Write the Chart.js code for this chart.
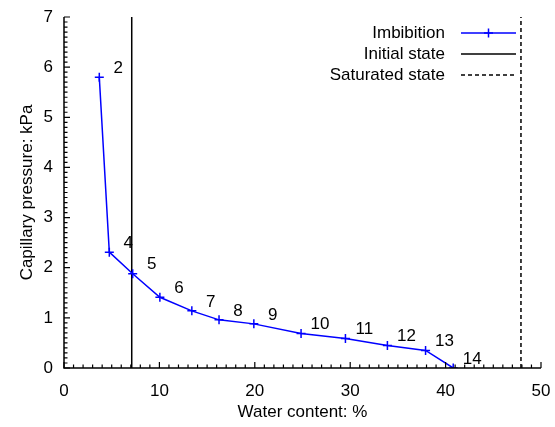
<!DOCTYPE html>
<html>
<head>
<meta charset="utf-8">
<title>Capillary pressure vs water content</title>
<script src="https://cdn.jsdelivr.net/npm/chart.js@4.4.1/dist/chart.umd.min.js"></script>
<style>
  html, body { margin: 0; padding: 0; background: #fff; }
  #wrap { width: 555px; height: 427px; }
</style>
</head>
<body>
<div id="wrap"><canvas id="chart" width="555" height="427"></canvas></div>
<script>
// imbibition path, water content (%) vs capillary pressure (kPa)
const waterContent = [3.7, 4.75, 7.2, 10.05, 13.4, 16.25, 19.9, 24.85, 29.5, 33.9, 37.9, 40.8];
const capPressure  = [5.8, 2.31, 1.88, 1.41, 1.14, 0.96, 0.88, 0.69, 0.59, 0.45, 0.35, 0.0];
const stepLabels   = ["2", "4", "5", "6", "7", "8", "9", "10", "11", "12", "13", "14"];

// reference states (water content, %)
const initialState = 7.1;
const saturatedState = 47.9;

const xRange = [0, 50];
const yRange = [0, 7];

const FONT = "'Liberation Sans', Arial, sans-serif";
const FONT_SIZE = 17;

// axis lines and inward ticks (major + minor)
const axesPlugin = {
  id: "axes",
  afterDatasetsDraw(chart) {
    const { ctx, chartArea: a, scales: { x, y } } = chart;
    ctx.save();
    ctx.strokeStyle = "#000";
    ctx.lineWidth = 1.5;
    ctx.beginPath();
    ctx.moveTo(a.left, a.top);
    ctx.lineTo(a.left, a.bottom);
    ctx.lineTo(a.right, a.bottom);
    ctx.stroke();

    ctx.lineWidth = 1.2;
    ctx.beginPath();
    for (let v = xRange[0]; v <= xRange[1]; v += 1) {
      const px = x.getPixelForValue(v);
      const len = v % 10 === 0 ? 6 : 3.5;
      ctx.moveTo(px, a.bottom);
      ctx.lineTo(px, a.bottom - len);
    }
    for (let i = 0; i <= 70; i++) {
      const py = y.getPixelForValue(i / 10);
      const len = i % 10 === 0 ? 6 : 3.5;
      ctx.moveTo(a.left, py);
      ctx.lineTo(a.left + len, py);
    }
    ctx.stroke();
    ctx.restore();
  }
};

// step numbers next to each imbibition point
const stepLabelPlugin = {
  id: "stepLabels",
  afterDatasetsDraw(chart) {
    const { ctx } = chart;
    const meta = chart.getDatasetMeta(0);
    ctx.save();
    ctx.font = FONT_SIZE + "px " + FONT;
    ctx.fillStyle = "#000";
    ctx.textAlign = "center";
    ctx.textBaseline = "middle";
    meta.data.forEach((pt, i) => {
      ctx.fillText(stepLabels[i], pt.x + 19, pt.y - 9);
    });
    ctx.restore();
  }
};

// legend: right-aligned text with line sample on the right
const legendPlugin = {
  id: "sideLegend",
  afterDraw(chart) {
    const { ctx } = chart;
    const textRight = 445, lineL = 461, lineR = 516;
    ctx.save();
    ctx.font = FONT_SIZE + "px " + FONT;
    ctx.textAlign = "right";
    ctx.textBaseline = "middle";
    chart.data.datasets.forEach((ds, i) => {
      const yy = 33 + i * 21;
      ctx.fillStyle = "#000";
      ctx.fillText(ds.label, textRight, yy);
      ctx.strokeStyle = ds.borderColor;
      ctx.lineWidth = ds.borderWidth;
      ctx.setLineDash(ds.borderDash || []);
      ctx.beginPath();
      ctx.moveTo(lineL, yy);
      ctx.lineTo(lineR, yy);
      ctx.stroke();
      ctx.setLineDash([]);
      if (ds.pointStyle === "cross") {
        const cx = (lineL + lineR) / 2, r = ds.pointRadius;
        ctx.lineWidth = ds.pointBorderWidth;
        ctx.beginPath();
        ctx.moveTo(cx - r, yy); ctx.lineTo(cx + r, yy);
        ctx.moveTo(cx, yy - r); ctx.lineTo(cx, yy + r);
        ctx.stroke();
      }
    });
    ctx.restore();
  }
};

new Chart(document.getElementById("chart"), {
  type: "line",
  data: {
    datasets: [
      {
        label: "Imbibition",
        data: waterContent.map((w, i) => ({ x: w, y: capPressure[i] })),
        borderColor: "#0000ff",
        borderWidth: 1.5,
        pointStyle: "cross",
        pointRadius: 4.5,
        pointBorderWidth: 1.5,
        pointBorderColor: "#0000ff",
        tension: 0
      },
      {
        label: "Initial state",
        data: [{ x: initialState, y: yRange[0] }, { x: initialState, y: yRange[1] }],
        borderColor: "#000",
        borderWidth: 1.5,
        pointRadius: 0
      },
      {
        label: "Saturated state",
        data: [{ x: saturatedState, y: yRange[0] }, { x: saturatedState, y: yRange[1] }],
        borderColor: "#000",
        borderWidth: 1.5,
        borderDash: [4, 3],
        pointRadius: 0
      }
    ]
  },
  options: {
    responsive: false,
    animation: false,
    devicePixelRatio: 1,
    layout: { padding: { top: 17, right: 14, left: 0, bottom: 0 } },
    plugins: { legend: { display: false }, tooltip: { enabled: false } },
    scales: {
      x: {
        type: "linear",
        min: xRange[0],
        max: xRange[1],
        // fixed axis box, no extra room for the end labels
        afterFit: (s) => { s.height = 59; s.paddingLeft = 0; s.paddingRight = 0; },
        grid: { display: false, drawTicks: false },
        border: { display: false },
        ticks: { stepSize: 10, color: "#000", padding: 13, font: { family: FONT, size: FONT_SIZE } },
        title: {
          display: true,
          text: "Water content: %",
          color: "#000",
          padding: { bottom: 4 },
          font: { family: FONT, size: FONT_SIZE }
        }
      },
      y: {
        type: "linear",
        min: yRange[0],
        max: yRange[1],
        afterFit: (s) => { s.width = 64; s.paddingTop = 0; s.paddingBottom = 0; },
        grid: { display: false, drawTicks: false },
        border: { display: false },
        ticks: { stepSize: 1, color: "#000", padding: 11, font: { family: FONT, size: FONT_SIZE } },
        title: {
          display: true,
          text: "Capillary pressure: kPa",
          color: "#000",
          padding: { top: 17 },
          font: { family: FONT, size: FONT_SIZE }
        }
      }
    }
  },
  plugins: [axesPlugin, stepLabelPlugin, legendPlugin]
});
</script>
</body>
</html>
